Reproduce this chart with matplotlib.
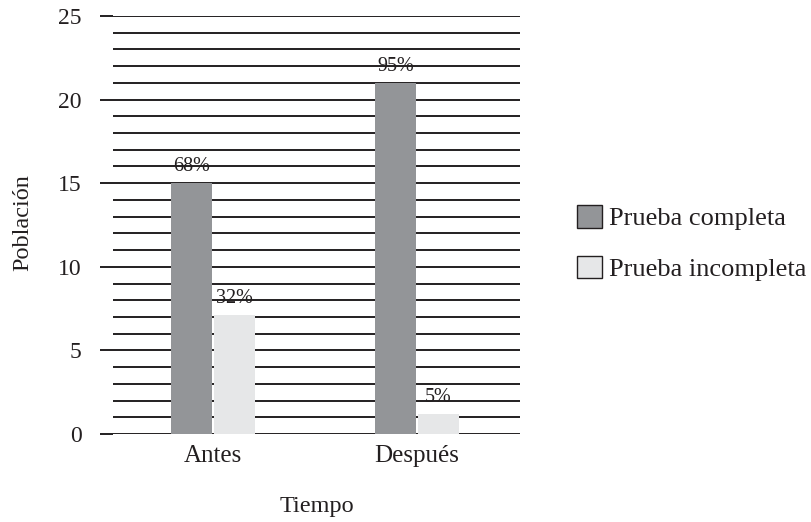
import matplotlib
matplotlib.use("Agg")
import matplotlib.pyplot as plt
import numpy as np
from matplotlib.ticker import MultipleLocator

# Data
categories = ["Antes", "Después"]
series_names = ["Prueba completa", "Prueba incompleta"]
completa = [15, 21]
incompleta = [7.1, 1.2]
labels_completa = ["68%", "95%"]
labels_incompleta = ["32%", "5%"]

colors = ["#939598", "#e6e7e8"]
ink = "#231f20"

plt.rcParams["font.family"] = ["Liberation Serif", "DejaVu Serif"]

W, H = 811, 522
fig = plt.figure(figsize=(W / 100, H / 100), dpi=100)
ax = fig.add_axes([113 / W, 1 - 434 / H, (520 - 113) / W, (434 - 16) / H])

x = np.arange(len(categories))
w = 0.2
off = 0.105

b1 = ax.bar(x - off, completa, width=w, color=colors[0], zorder=3, label=series_names[0])
b2 = ax.bar(x + off, incompleta, width=w, color=colors[1], zorder=3, label=series_names[1])

for bars, labs in ((b1, labels_completa), (b2, labels_incompleta)):
    for rect, lab in zip(bars, labs):
        ax.annotate(lab, (rect.get_x() + rect.get_width() / 2, rect.get_height()),
                    xytext=(0, 5), textcoords="offset points", ha="center", va="bottom",
                    fontsize=14.5, color=ink, zorder=4)

ax.set_xlim(-0.49, 1.505)
ax.set_ylim(0, 25)
ax.yaxis.set_major_locator(MultipleLocator(5))
ax.yaxis.set_minor_locator(MultipleLocator(1))
ax.grid(axis="y", which="both", color=ink, linewidth=1.4, zorder=1)
ax.set_axisbelow(True)

for s in ax.spines.values():
    s.set_visible(False)

ax.tick_params(axis="y", which="major", length=9.5, width=1.4, color=ink,
               pad=13, labelsize=17, labelcolor=ink)
ax.tick_params(axis="y", which="minor", length=0)
ax.set_xticks(x)
ax.set_xticklabels(categories)
ax.tick_params(axis="x", length=0, pad=8, labelsize=18, labelcolor=ink)

# Axis titles
fig.text(317 / W, 1 - 512 / H, "Tiempo", fontsize=17.5, color=ink, ha="center", va="baseline")
fig.text(23 / W, 1 - 223 / H, "Población", fontsize=17.5, color=ink, ha="center", va="center",
         rotation=90)

leg = fig.legend(handles=[b1, b2], loc="center left", bbox_to_anchor=(577 / W, 1 - 243 / H),
                 frameon=False, fontsize=19, handlelength=0.95, handleheight=0.95,
                 handletextpad=0.25, labelspacing=0.95, borderaxespad=0, borderpad=0)
for h in leg.legend_handles:
    h.set_edgecolor(ink)
    h.set_linewidth(1.0)
for t in leg.get_texts():
    t.set_color(ink)

fig.savefig("out.png", dpi=100)
